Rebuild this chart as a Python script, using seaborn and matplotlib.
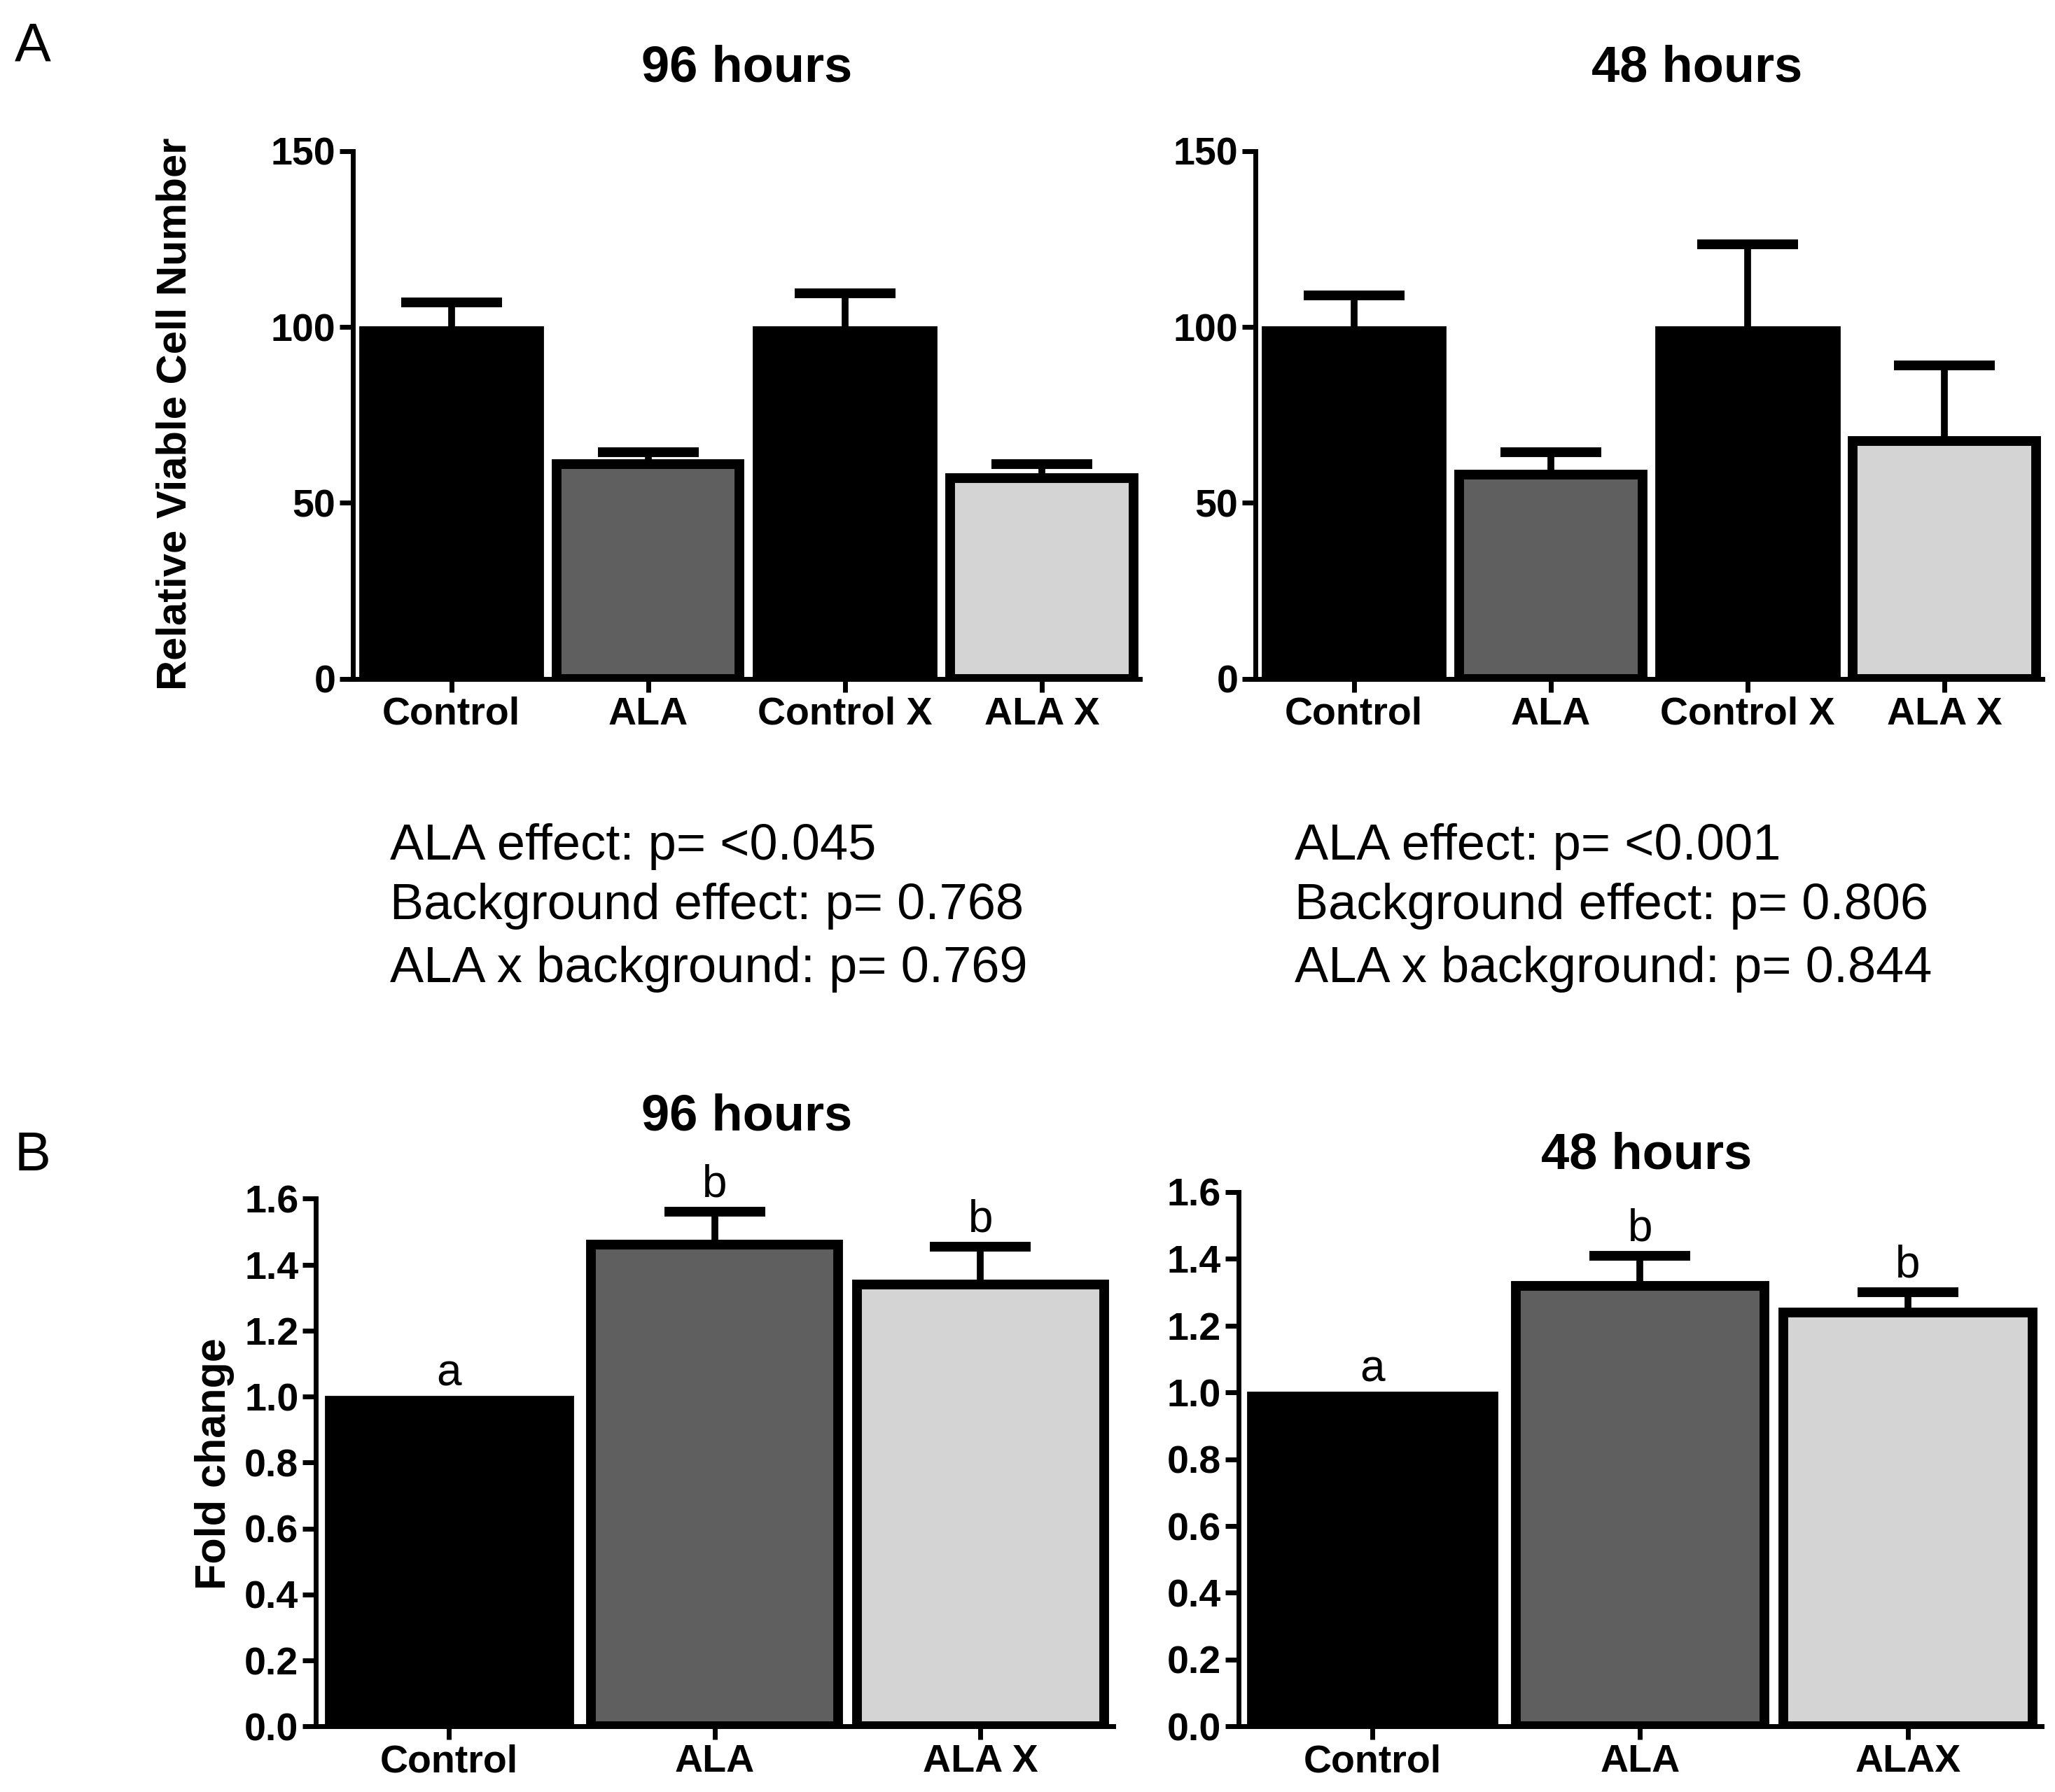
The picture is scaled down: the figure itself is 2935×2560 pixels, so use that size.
import matplotlib
matplotlib.use("Agg")
import matplotlib.pyplot as plt
import seaborn as sns
import pandas as pd

# Panel A: relative viable cell number
a_groups = ["Control", "ALA", "Control X", "ALA X"]
a96_values = [100, 61, 100, 57]
a96_err = [7, 3.5, 9.5, 4]
a48_values = [100, 58, 100, 67.5]
a48_err = [9, 6.5, 23.5, 21.5]

# Panel B: fold change
b96_groups = ["Control", "ALA", "ALA X"]
b48_groups = ["Control", "ALA", "ALAX"]
b96_values = [1.0, 1.46, 1.34]
b96_err = [0, 0.10, 0.115]
b48_values = [1.0, 1.32, 1.24]
b48_err = [0, 0.09, 0.06]
b_letters = ["a", "b", "b"]

stats_96 = ["ALA effect: p= <0.045", "Background effect: p= 0.768", "ALA x background: p= 0.769"]
stats_48 = ["ALA effect: p= <0.001", "Background effect: p= 0.806", "ALA x background: p= 0.844"]

BLACK, DARK, LIGHT = "#000000", "#5f5f5f", "#d4d4d4"

sns.set_theme(style="ticks")
plt.rcParams['font.family'] = ['Liberation Sans', 'DejaVu Sans']
plt.rcParams['text.color'] = 'black'
plt.rcParams['axes.labelcolor'] = 'black'

fig = plt.figure(figsize=(29.35, 25.6), dpi=100)


def draw_panel(ax, groups, values, err, colors, ylim, yticks, fmt, letters=None):
    df = pd.DataFrame({"group": groups, "value": values})
    sns.barplot(data=df, x="group", y="value", hue="group", palette=colors,
                legend=False, errorbar=None, width=0.93, ax=ax)
    for patch, c in zip(ax.patches, colors):
        patch.set_edgecolor("black")
        patch.set_linewidth(2 if c == BLACK else 10)
        patch.set_zorder(3)
    xs = list(range(len(groups)))
    for x, v, e in zip(xs, values, err):
        if e > 0:
            _, caps, _ = ax.errorbar(x, v, yerr=[[0], [e]], fmt="none", ecolor="black",
                                     elinewidth=7, capsize=52, capthick=10, zorder=2)
            caps[0].set_visible(False)  # only the upper cap, like Prism
    if letters:
        for x, v, e, t in zip(xs, values, err, letters):
            ax.annotate(t, (x, v + e), xytext=(0, 6 if e > 0 else 2),
                        textcoords="offset points", ha="center", va="bottom",
                        fontsize=46, color="black")
    ax.set_xlim(-0.5, len(groups) - 0.5)
    ax.set_ylim(*ylim)
    ax.set_yticks(yticks)
    ax.set_yticklabels([fmt.format(t) for t in yticks])
    ax.set_xlabel("")
    ax.set_ylabel("")
    sns.despine(ax=ax)
    for s in ("left", "bottom"):
        ax.spines[s].set_linewidth(5)
        ax.spines[s].set_color("black")
        ax.spines[s].set_zorder(4)
    ax.tick_params(axis="both", direction="out", length=14, width=5, color="black",
                   labelsize=40, pad=4, labelcolor="black")
    for lab in ax.get_xticklabels() + ax.get_yticklabels():
        lab.set_fontweight("bold")


ax1 = fig.add_axes([0.1718, 0.6212, 0.383, 0.2945])
draw_panel(ax1, a_groups, a96_values, a96_err, [BLACK, DARK, BLACK, LIGHT],
           (0, 150), [0, 50, 100, 150], "{:d}")
ax2 = fig.add_axes([0.611, 0.6212, 0.383, 0.2945])
draw_panel(ax2, a_groups, a48_values, a48_err, [BLACK, DARK, BLACK, LIGHT],
           (0, 150), [0, 50, 100, 150], "{:d}")

bticks = [0.0, 0.2, 0.4, 0.6, 0.8, 1.0, 1.2, 1.4, 1.6]
ax3 = fig.add_axes([0.1538, 0.0366, 0.388, 0.2945])
draw_panel(ax3, b96_groups, b96_values, b96_err, [BLACK, DARK, LIGHT],
           (0, 1.6), bticks, "{:.1f}", b_letters)
ax4 = fig.add_axes([0.6026, 0.0366, 0.391, 0.2982])
draw_panel(ax4, b48_groups, b48_values, b48_err, [BLACK, DARK, LIGHT],
           (0, 1.6), bticks, "{:.1f}", b_letters)

# titles and labels
fig.text(0.3635, 0.962, "96 hours", ha="center", va="center", fontsize=52, fontweight="bold")
fig.text(0.8256, 0.962, "48 hours", ha="center", va="center", fontsize=52, fontweight="bold")
fig.text(0.3635, 0.3766, "96 hours", ha="center", va="center", fontsize=52, fontweight="bold")
fig.text(0.8013, 0.3553, "48 hours", ha="center", va="center", fontsize=52, fontweight="bold")
fig.text(0.0853, 0.769, "Relative Viable Cell Number", rotation=90, ha="center", va="center",
         fontsize=43, fontweight="bold")
fig.text(0.1045, 0.183, "Fold change", rotation=90, ha="center", va="center",
         fontsize=44, fontweight="bold")
fig.text(0.016, 0.974, "A", ha="center", va="center", fontsize=56)
fig.text(0.016, 0.355, "B", ha="center", va="center", fontsize=56)

for i, (l, r) in enumerate(zip(stats_96, stats_48)):
    y = [0.5275, 0.4945, 0.4593][i]
    fig.text(0.1897, y, l, ha="left", va="center", fontsize=52)
    fig.text(0.630, y, r, ha="left", va="center", fontsize=52)

fig.savefig("out.png", dpi=100)
